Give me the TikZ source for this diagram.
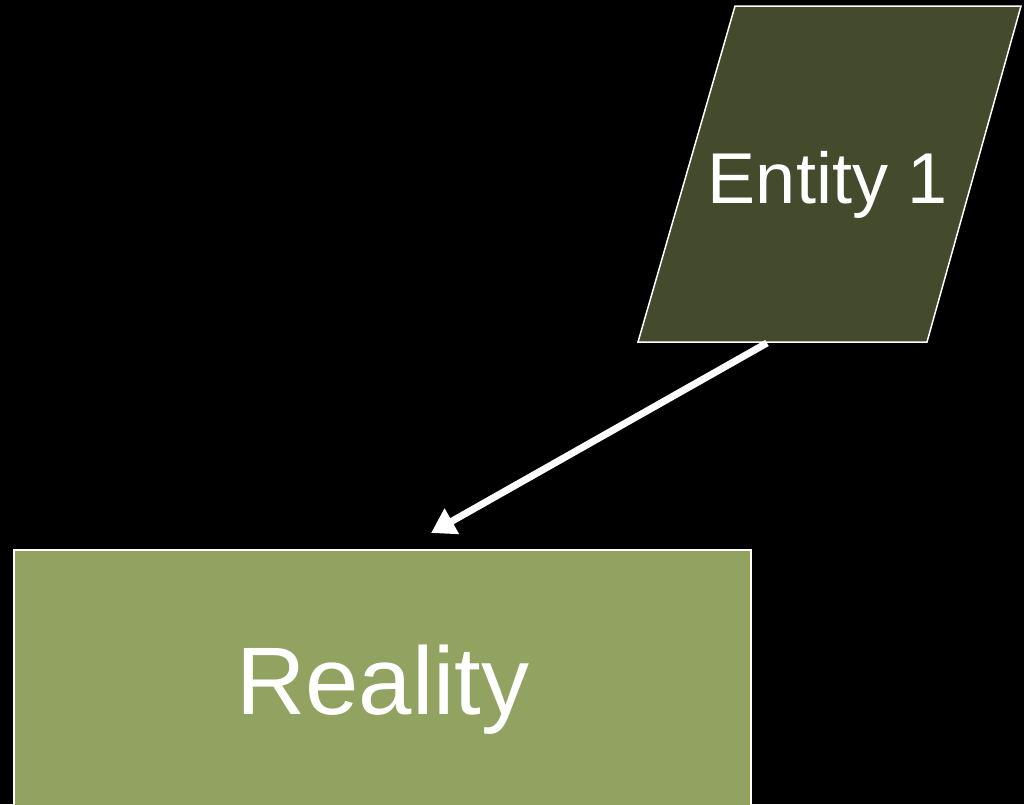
\documentclass[tikz,border=0pt]{standalone}
\usepackage{fontspec}
\setmainfont{Liberation Sans}
\usetikzlibrary{arrows.meta}
\definecolor{darkolive}{HTML}{444B2C}
\definecolor{lightolive}{HTML}{91A261}
\tikzset{
  shapeborder/.style={draw=white, line width=1.5pt},
  bigtext/.style={text=white, inner sep=0pt, anchor=base},
  conn/.style={draw=white, line width=7pt, -{Triangle[length=24pt,width=28pt]}}
}
\begin{document}
\begin{tikzpicture}[x=1pt,y=1pt]
  \fill[black] (0,0) rectangle (1024,-804);
  \useasboundingbox (0,0) rectangle (1024,-804);
  \clip (0,0) rectangle (1024,-804);
  % Entity 1 parallelogram
  \path[shapeborder, fill=darkolive] (735,-6) -- (1021,-6) -- (927,-342) -- (638,-342) -- cycle;
  \node[bigtext, font=\fontsize{72}{86}\selectfont] (e1) at (828,-203) {Entity 1};
  \coordinate (e1out) at (767,-343);
  % Reality rectangle
  \path[shapeborder, fill=lightolive] (14,-550) rectangle (751,-830);
  \node[bigtext, font=\fontsize{96}{115}\selectfont] (real) at (383,-714) {Reality};
  \coordinate (realin) at (431,-533);
  % connector
  \draw[conn] (e1out) -- (realin);
\end{tikzpicture}
\end{document}
